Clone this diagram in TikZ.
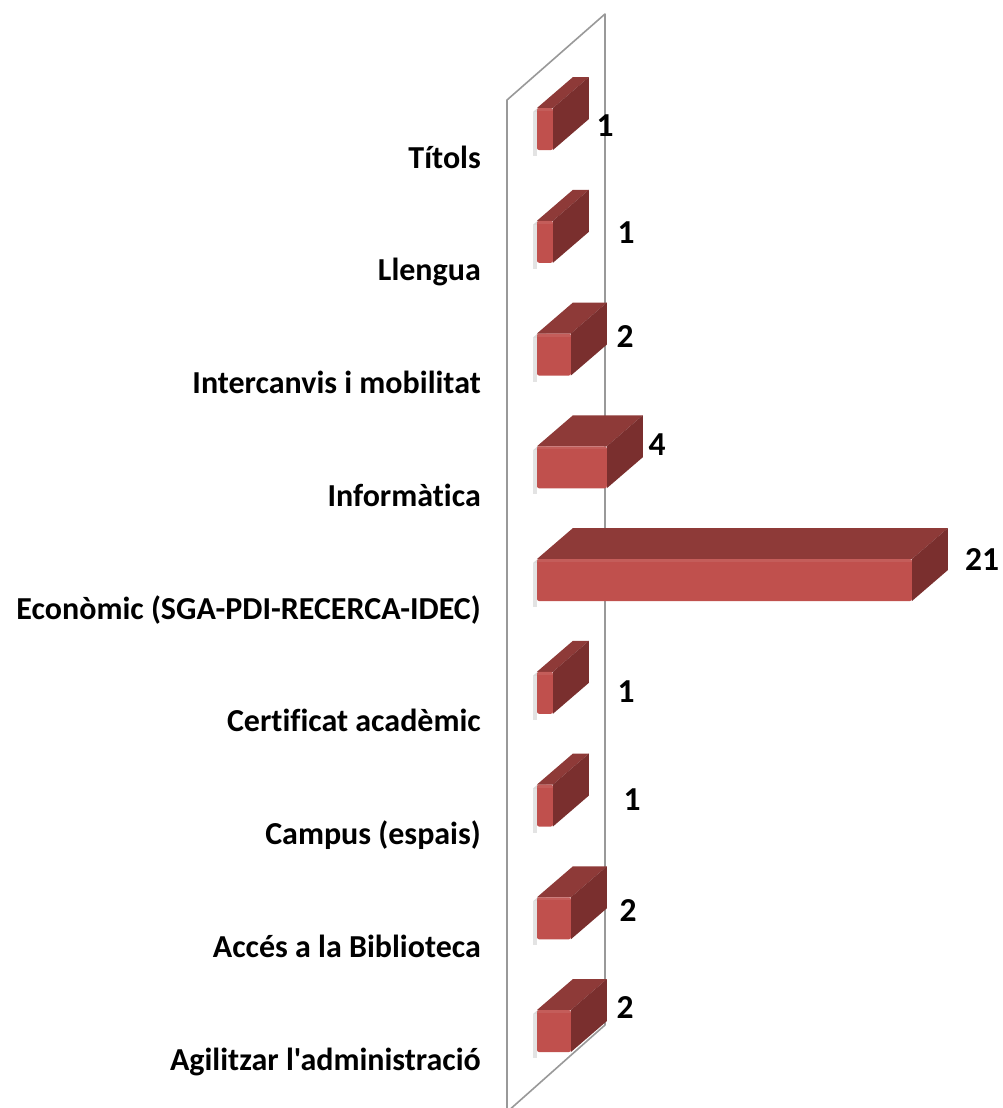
\documentclass[tikz,border=0pt]{standalone}
\usepackage{fontspec}
\setmainfont{Carlito}[Ligatures={TeXOff,CommonOff}]
\begin{document}
\begin{tikzpicture}[x=1pt,y=-1pt,
  wall/.style={draw=black!40,line width=1.6pt},
  catlabel/.style={anchor=base east,font=\fontsize{32}{38}\selectfont\bfseries,inner sep=0pt},
  vallabel/.style={anchor=base,font=\fontsize{33.5}{38}\selectfont\bfseries,inner sep=0pt},
  barfront/.style={fill=barFront,draw=none},
  bartop/.style={fill=barTop,draw=none},
  barside/.style={fill=barSide,draw=none}]
\definecolor{barFront}{HTML}{C0504D}
\definecolor{barTop}{HTML}{8E3A38}
\definecolor{barSide}{HTML}{7A2F2E}
\useasboundingbox (0,0) rectangle (1002,1108);
\fill[white] (0,0) rectangle (1002,1108);
% wall
\coordinate (wtl) at (507,100);
\coordinate (wtr) at (605,14);
\coordinate (wbr) at (605,1025);
\coordinate (wbl) at (507,1112);
\begin{scope}
\clip (0,0) rectangle (1002,1108);
\draw[wall,line join=round] (wbl) -- (wtl) -- (wtr) -- (wbr) -- (wbl);
\end{scope}
% bars
\foreach \i/\v/\lab/\vx/\vy in {
  0/1/{Títols}/605/126,
  1/1/{Llengua}/626/233,
  2/2/{Intercanvis i mobilitat}/625/337,
  3/4/{Informàtica}/657/445,
  4/21/{Econòmic (SGA-PDI-RECERCA-IDEC)}/982/560,
  5/1/{Certificat acadèmic}/626/692,
  6/1/{Campus (espais)}/632/800,
  7/2/{Accés a la Biblioteca}/628/911,
  8/2/{Agilitzar l'administració}/625/1008}{
  \pgfmathsetmacro{\t}{108+112.75*\i}
  \pgfmathsetmacro{\w}{17.95*\v-2}
  \pgfmathsetmacro{\b}{\t+42}
  \pgfmathsetmacro{\r}{537+\w}
  % shadow
  \fill[black!14] (533,\t+4) -- (569,\t-27) -- (571,\t-22) -- (537,\t+8) -- cycle;
  \fill[black!11] (533,\t+4) rectangle (537,\b+6);
  % top face
  \fill[bartop] (537,\t) -- (573,\t-31) -- (\r+36,\t-31) -- (\r,\t) -- cycle;
  % side face
  \fill[barside] (\r,\t) -- (\r+36,\t-31) -- (\r+36,\b-31) -- (\r,\b) -- cycle;
  % front face
  \fill[barfront,rounded corners=2pt] (537,\t) rectangle (\r,\b);
  \fill[white,opacity=0.08] (537,\t) rectangle (\r,\t+3);
  \node[catlabel] (lab\i) at (481,\t+60) {\lab};
  \node[vallabel] (val\i) at (\vx,\vy+10.5) {\v};
}
\end{tikzpicture}
\end{document}
